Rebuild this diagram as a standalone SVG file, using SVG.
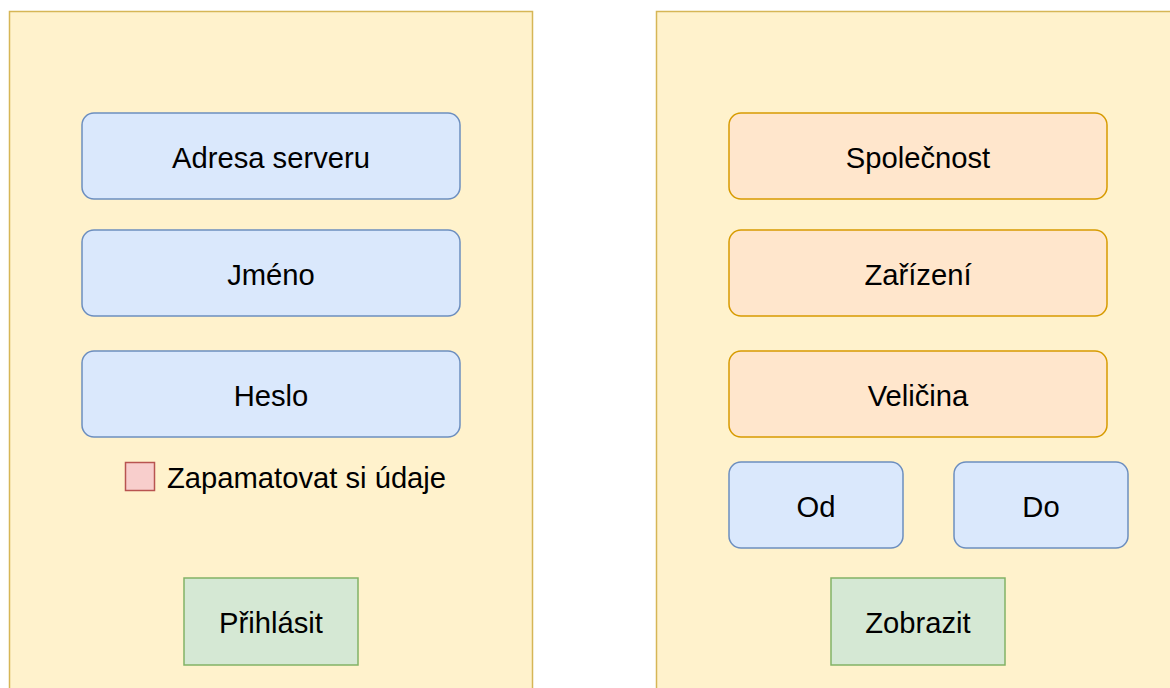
<svg xmlns="http://www.w3.org/2000/svg" width="1170" height="688" viewBox="0 0 1170 688">
<style>
.panel{fill:#fff2cc;stroke:#d6b656;stroke-width:1.5}
.blue{fill:#dae8fc;stroke:#6c8ebf;stroke-width:1.5}
.orange{fill:#ffe6cc;stroke:#d79b00;stroke-width:1.5}
.green{fill:#d5e8d4;stroke:#82b366;stroke-width:1.5}
.red{fill:#f8cecc;stroke:#b85450;stroke-width:1.5}
text{font-family:"Liberation Sans",Arial,sans-serif;font-size:29.2px;fill:#000}
.c{text-anchor:middle}
</style>
<rect width="1170" height="688" fill="#ffffff"/>
<g id="panel-login"><rect class="panel" x="9.5" y="11.5" width="523" height="690"/></g>
<g id="panel-view"><rect class="panel" x="656.5" y="11.5" width="530" height="690"/></g>
<g id="connectors"></g>
<g id="adresa"><rect class="blue" x="82" y="113" width="378" height="86" rx="12"/><text class="c" x="271" y="168">Adresa serveru</text></g>
<g id="jmeno"><rect class="blue" x="82" y="230" width="378" height="86" rx="12"/><text class="c" x="271" y="285">Jméno</text></g>
<g id="heslo"><rect class="blue" x="82" y="351" width="378" height="86" rx="12"/><text class="c" x="271" y="406">Heslo</text></g>
<g id="zapamatovat"><rect class="red" x="125.5" y="462.5" width="29" height="28"/><text x="167" y="488">Zapamatovat si údaje</text></g>
<g id="prihlasit"><rect class="green" x="184" y="578" width="174" height="87"/><text class="c" x="271" y="633">Přihlásit</text></g>
<g id="spolecnost"><rect class="orange" x="729" y="113" width="378" height="86" rx="12"/><text class="c" x="918" y="168">Společnost</text></g>
<g id="zarizeni"><rect class="orange" x="729" y="230" width="378" height="86" rx="12"/><text class="c" x="918" y="285">Zařízení</text></g>
<g id="velicina"><rect class="orange" x="729" y="351" width="378" height="86" rx="12"/><text class="c" x="918" y="406">Veličina</text></g>
<g id="od"><rect class="blue" x="729" y="462" width="174" height="86" rx="12"/><text class="c" x="816" y="517">Od</text></g>
<g id="do"><rect class="blue" x="954" y="462" width="174" height="86" rx="12"/><text class="c" x="1041" y="517">Do</text></g>
<g id="zobrazit"><rect class="green" x="831" y="578" width="174" height="87"/><text class="c" x="918" y="633">Zobrazit</text></g>
</svg>
